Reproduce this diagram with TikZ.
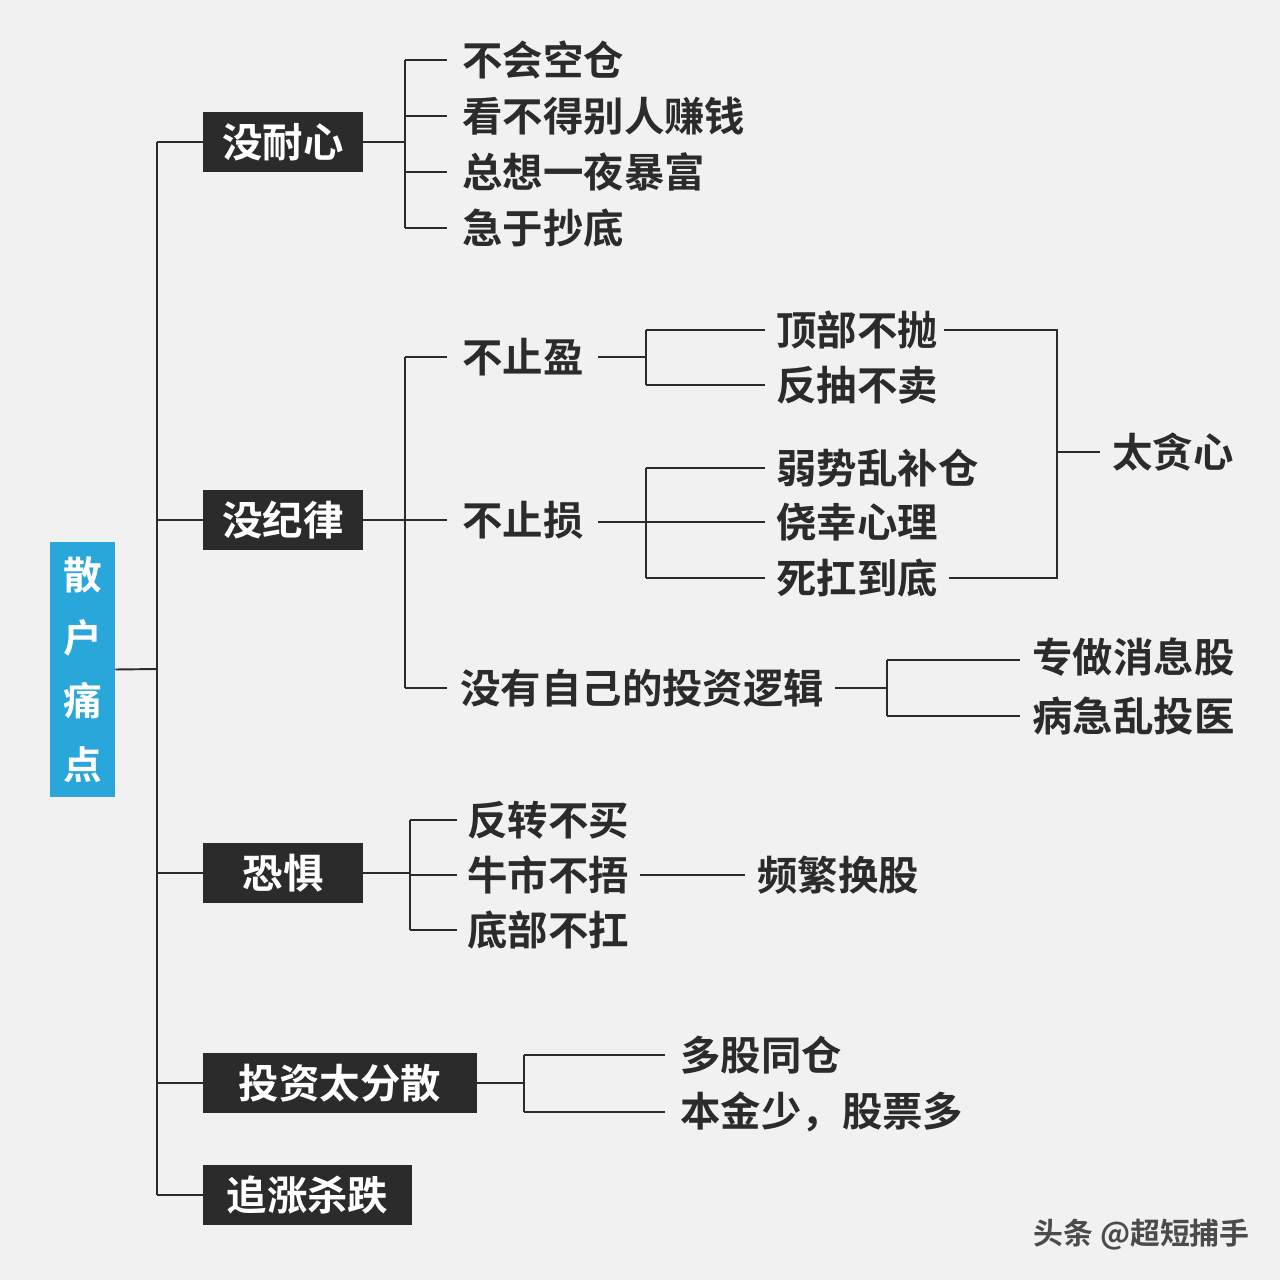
\documentclass[tikz,border=0pt]{standalone}
\usepackage{fontspec}
\newfontfamily\cjk{Noto Sans CJK SC Bold}
\definecolor{bg}{HTML}{F1F1F1}
\definecolor{ink}{HTML}{2B2B2B}
\definecolor{rootblue}{HTML}{2AA7DA}
\tikzset{
	txt/.style={anchor=west,inner sep=0pt,font=\cjk\fontsize{23}{27}\selectfont,text=ink},
	cat/.style={fill=ink,text=white,inner sep=0pt,font=\cjk\fontsize{23}{27}\selectfont},
	ln/.style={draw=ink,line width=1.1pt}
}
\begin{document}
\begin{tikzpicture}[x=0.02cm,y=-0.02cm]
	\fill[bg](0,0)rectangle(1280,1280);
	\useasboundingbox(0,0)rectangle(1280,1280);
	% root and categories
	\node[fill=rootblue,text=white,minimum width=1.3cm,minimum height=5.1cm,inner sep=0pt,
		font=\cjk\fontsize{22}{36}\selectfont,align=center] at (82.5,669.5)(root){散\\户\\痛\\点};
	\node[cat,minimum width=3.2cm,minimum height=1.2cm] at (283,142)(c1){没耐心};
	\node[cat,minimum width=3.2cm,minimum height=1.2cm] at (283,520)(c2){没纪律};
	\node[cat,minimum width=3.2cm,minimum height=1.2cm] at (283,873)(c3){恐惧};
	\node[cat,minimum width=5.48cm,minimum height=1.2cm] at (340,1083)(c4){投资太分散};
	\node[cat,minimum width=4.18cm,minimum height=1.2cm] at (307.5,1195)(c5){追涨杀跌};
	\coordinate(t) at (157,669);
	\draw[ln](root.east)--(t);
	\draw[ln](157,142)--(157,1195);
	\foreach \c in {c1,c2,c3,c4,c5}
		\draw[ln](157,0|-\c.west)--(\c.west);

	% 没耐心
	\node[txt] at (462,60)(a1){不会空仓};
	\node[txt] at (462,116)(a2){看不得别人赚钱};
	\node[txt] at (462,172)(a3){总想一夜暴富};
	\node[txt] at (462,228)(a4){急于抄底};
	\draw[ln](c1.east)--(405,142);
	\draw[ln](405,60)--(405,228);
	\foreach \n in {a1,a2,a3,a4}
		\draw[ln](405,0|-\n.west)--(447,0|-\n.west);

	% 没纪律
	\node[txt] at (462,357)(b1){不止盈};
	\node[txt] at (462,520)(b2){不止损};
	\node[txt] at (460,688)(b3){没有自己的投资逻辑};
	\draw[ln](c2.east)--(405,520);
	\draw[ln](405,357)--(405,688);
	\foreach \n in {b1,b2,b3}
		\draw[ln](405,0|-\n.west)--(447,0|-\n.west);

	\node[txt] at (776,330)(d1){顶部不抛};
	\node[txt] at (776,385)(d2){反抽不卖};
	\draw[ln](598,357)--(646,357)(646,330)--(646,385);
	\foreach \n in {d1,d2}
		\draw[ln](646,0|-\n.west)--(765,0|-\n.west);

	\node[txt] at (776,468)(e1){弱势乱补仓};
	\node[txt] at (776,522)(e2){侥幸心理};
	\node[txt] at (776,578)(e3){死扛到底};
	\draw[ln](598,522)--(646,522)(646,468)--(646,578);
	\foreach \n in {e1,e2,e3}
		\draw[ln](646,0|-\n.west)--(765,0|-\n.west);

	\node[txt] at (1112,452)(g){太贪心};
	\draw[ln](d1.east)++(6,0)--(1057,330)--(1057,578)--([xshift=6pt]e3.east);
	\draw[ln](1057,452)--(1100,452);

	\node[txt] at (1032,657)(f1){专做消息股};
	\node[txt] at (1032,716)(f2){病急乱投医};
	\draw[ln]([xshift=6pt]b3.east)--(887,688)(887,660)--(887,716);
	\draw[ln](887,660)--(1020,660)(887,716)--(1020,716);

	% 恐惧
	\node[txt] at (467,820)(h1){反转不买};
	\node[txt] at (467,875)(h2){牛市不捂};
	\node[txt] at (467,930)(h3){底部不扛};
	\node[txt] at (757,875)(h4){频繁换股};
	\draw[ln](c3.east)--(410,873)(410,820)--(410,930);
	\foreach \n in {h1,h2,h3}
		\draw[ln](410,0|-\n.west)--(457,0|-\n.west);
	\draw[ln]([xshift=6pt]h2.east)--(745,875);

	% 投资太分散
	\node[txt] at (680,1055)(k1){多股同仓};
	\node[txt] at (680,1112)(k2){本金少，股票多};
	\draw[ln](c4.east)--(524,1083)(524,1055)--(524,1112);
	\foreach \n in {k1,k2}
		\draw[ln](524,0|-\n.west)--(665,0|-\n.west);

	\node[anchor=east,inner sep=0pt,text=ink!85,font=\cjk\fontsize{17}{20}\selectfont] at (1250,1235)(wm){头条 @超短捕手};
\end{tikzpicture}
\end{document}
